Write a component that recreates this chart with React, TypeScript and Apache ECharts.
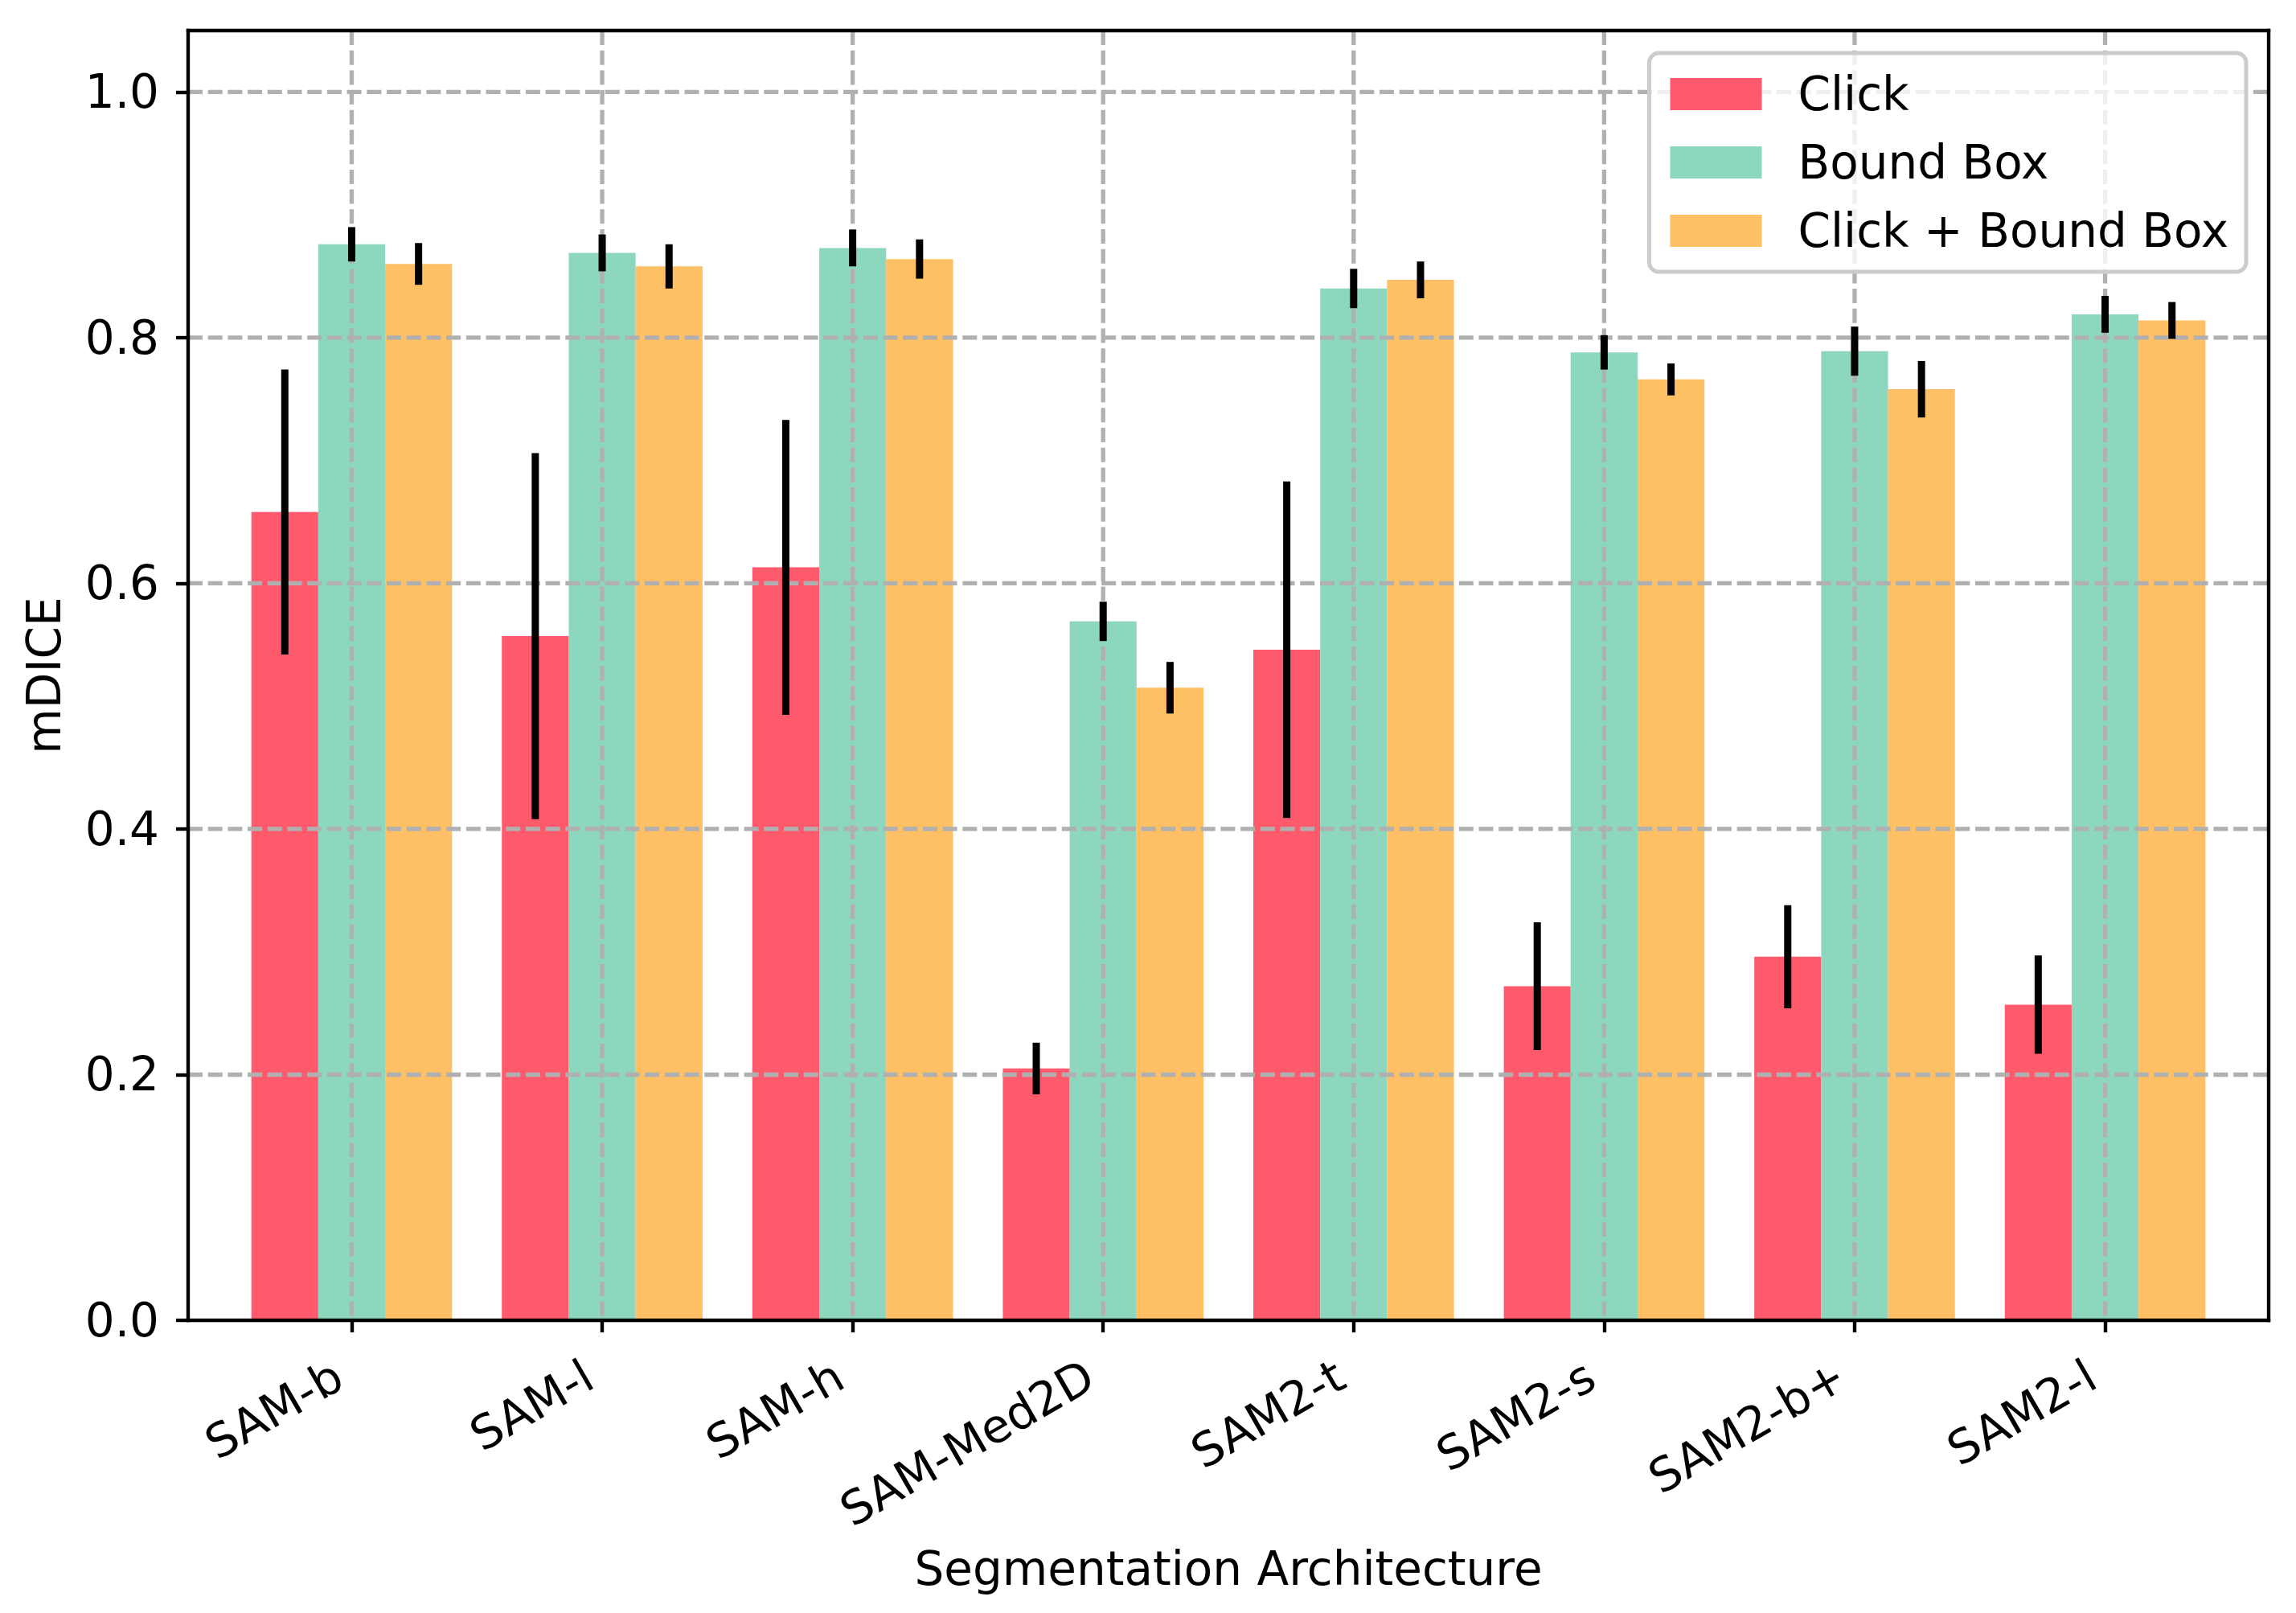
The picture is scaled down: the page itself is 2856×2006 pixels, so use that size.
import React, { useEffect, useRef } from 'react';
import * as echarts from 'echarts';

// ---- data ----
const categories = ['SAM-b', 'SAM-l', 'SAM-h', 'SAM-Med2D', 'SAM2-t', 'SAM2-s', 'SAM2-b+', 'SAM2-l'];
const seriesNames = ['Click', 'Bound Box', 'Click + Bound Box'];
const clickMean = [0.658, 0.557, 0.613, 0.205, 0.546, 0.272, 0.296, 0.257];
const clickErr = [0.116, 0.149, 0.120, 0.021, 0.137, 0.052, 0.042, 0.040];
const boxMean = [0.876, 0.869, 0.873, 0.569, 0.840, 0.788, 0.789, 0.819];
const boxErr = [0.014, 0.015, 0.015, 0.016, 0.016, 0.014, 0.020, 0.015];
const bothMean = [0.860, 0.858, 0.864, 0.515, 0.847, 0.766, 0.758, 0.814];
const bothErr = [0.017, 0.018, 0.016, 0.021, 0.015, 0.013, 0.023, 0.015];
const yTicks = [0, 0.2, 0.4, 0.6, 0.8, 1.0];
const yMax = 1.05;

// ---- styles / layout ----
const colors = ['#FF5A6B', '#8DD7BF', '#FEBF65'];
const W = 2856;
const H = 2006;
const LEFT = 234;
const RIGHT_EDGE = 2822;
const TOP = 38;
const BOTTOM_EDGE = 1642;
const XPAD = 0.653;
const BAR_FRAC = 0.267;
const FONT = 'DejaVu Sans';
const FS = 58;
const SPINE = 4.4;

export default function App() {
  const ref = useRef<HTMLDivElement>(null);
  useEffect(() => {
    if (!ref.current) return;
    const chart = echarts.init(ref.current, null, { renderer: 'svg', width: W, height: H });
    const plotW = RIGHT_EDGE - LEFT;
    const plotH = BOTTOM_EDGE - TOP;
    const unit = plotW / (categories.length - 1 + 2 * XPAD);
    const inset = (XPAD - 0.5) * unit;

    const means = [clickMean, boxMean, bothMean];
    const errs = [clickErr, boxErr, bothErr];

    const errData: number[][] = [];
    means.forEach((m, s) => {
      m.forEach((v, i) => {
        errData.push([i, v - errs[s][i], v + errs[s][i], s]);
      });
    });

    const gridData: number[][] = [];
    yTicks.forEach((v) => { if (v > 0) gridData.push([0, v]); });
    categories.forEach((_, i) => gridData.push([1, i]));

    const spineLine = { show: true, onZero: false, lineStyle: { color: '#000', width: SPINE, cap: 'square' } };

    const option: any = {
      animation: false,
      backgroundColor: '#ffffff',
      textStyle: { fontFamily: FONT },
      grid: [
        { left: LEFT, top: TOP, width: plotW, height: plotH, containLabel: false },
        { left: LEFT + inset, top: TOP, width: plotW - 2 * inset, height: plotH, containLabel: false },
      ],
      legend: {
        data: seriesNames,
        orient: 'vertical',
        right: W - (RIGHT_EDGE - 28),
        top: TOP + 28,
        itemWidth: 114,
        itemHeight: 40,
        itemGap: 27,
        padding: [22, 22, 22, 26],
        backgroundColor: 'rgba(255,255,255,0.8)',
        borderColor: '#cccccc',
        borderWidth: 5,
        borderRadius: 12,
        icon: 'rect',
        selectedMode: false,
        z: 20,
        itemStyle: { borderWidth: 0 },
        textStyle: { fontFamily: FONT, fontSize: FS, color: '#000', lineHeight: 57, padding: [0, 0, 0, 40] },
      },
      xAxis: [
        {
          gridIndex: 0, type: 'value', position: 'bottom',
          min: -XPAD, max: categories.length - 1 + XPAD,
          axisLine: spineLine, axisTick: { show: false }, axisLabel: { show: false }, splitLine: { show: false },
          name: 'Segmentation Architecture', nameLocation: 'middle', nameGap: 280,
          nameTextStyle: { fontFamily: FONT, fontSize: FS, color: '#000' },
          z: 10,
        },
        {
          gridIndex: 1, type: 'category', data: categories, position: 'bottom',
          axisLine: { show: false, onZero: false },
          axisTick: { show: true, alignWithLabel: true, length: 15, lineStyle: { color: '#000', width: SPINE } },
          axisLabel: {
            interval: 0, rotate: 30, margin: 55, padding: [0, 19, 0, 0],
            fontFamily: FONT, fontSize: FS, color: '#000',
          },
          splitLine: { show: false },
          z: 10,
        },
        {
          gridIndex: 0, type: 'value', position: 'top',
          min: -XPAD, max: categories.length - 1 + XPAD,
          axisLine: spineLine, axisTick: { show: false }, axisLabel: { show: false }, splitLine: { show: false },
          z: 10,
        },
      ],
      yAxis: [
        {
          gridIndex: 0, type: 'value', position: 'left', min: 0, max: yMax, interval: 0.2,
          axisLine: spineLine,
          axisTick: { show: true, length: 15, lineStyle: { color: '#000', width: SPINE }, customValues: yTicks },
          axisLabel: {
            customValues: yTicks, margin: 36,
            formatter: (v: number) => v.toFixed(1),
            fontFamily: FONT, fontSize: FS, color: '#000',
          },
          splitLine: { show: false },
          name: 'mDICE', nameLocation: 'middle', nameGap: 150,
          nameTextStyle: { fontFamily: FONT, fontSize: FS, color: '#000' },
          z: 10,
        },
        { gridIndex: 1, type: 'value', min: 0, max: yMax, show: false },
        {
          gridIndex: 0, type: 'value', position: 'right', min: 0, max: yMax,
          axisLine: spineLine, axisTick: { show: false }, axisLabel: { show: false }, splitLine: { show: false },
          z: 10,
        },
      ],
      series: [
        ...seriesNames.map((name, s) => ({
          name,
          type: 'bar',
          xAxisIndex: 1,
          yAxisIndex: 1,
          data: means[s],
          barWidth: `${BAR_FRAC * 100}%`,
          barGap: '0%',
          itemStyle: { color: colors[s] },
          z: 2,
          silent: true,
        })),
        {
          type: 'custom',
          name: 'grid',
          xAxisIndex: 0,
          yAxisIndex: 0,
          silent: true,
          z: 3,
          data: gridData,
          encode: { x: 1, y: 1 },
          renderItem: (params: any, api: any) => {
            const kind = api.value(0);
            const v = api.value(1);
            const cs = params.coordSys;
            const style = { stroke: '#b0b0b0', lineWidth: 5.3, lineDash: [18, 6.7], fill: null };
            if (kind === 0) {
              const p = api.coord([0, v]);
              return { type: 'line', shape: { x1: cs.x, y1: p[1], x2: cs.x + cs.width, y2: p[1] }, style };
            }
            const p = api.coord([v, 0]);
            return { type: 'line', shape: { x1: p[0], y1: cs.y, x2: p[0], y2: cs.y + cs.height }, style };
          },
        },
        {
          type: 'custom',
          name: 'errors',
          xAxisIndex: 1,
          yAxisIndex: 1,
          silent: true,
          z: 4,
          data: errData,
          encode: { x: 0, y: [1, 2] },
          renderItem: (params: any, api: any) => {
            const c = api.value(0);
            const lo = api.coord([c, api.value(1)]);
            const hi = api.coord([c, api.value(2)]);
            const band = api.size([1, 0])[0];
            const off = (api.value(3) - 1) * band * BAR_FRAC;
            return {
              type: 'line',
              shape: { x1: lo[0] + off, y1: lo[1], x2: hi[0] + off, y2: hi[1] },
              style: { stroke: '#000', lineWidth: 9 },
            };
          },
        },
      ],
    };
    chart.setOption(option);
    return () => chart.dispose();
  }, []);
  return (
    <div
      ref={ref}
      style={{ position: 'absolute', left: 0, top: 0, width: W, height: H, background: '#fff' }}
    />
  );
}
